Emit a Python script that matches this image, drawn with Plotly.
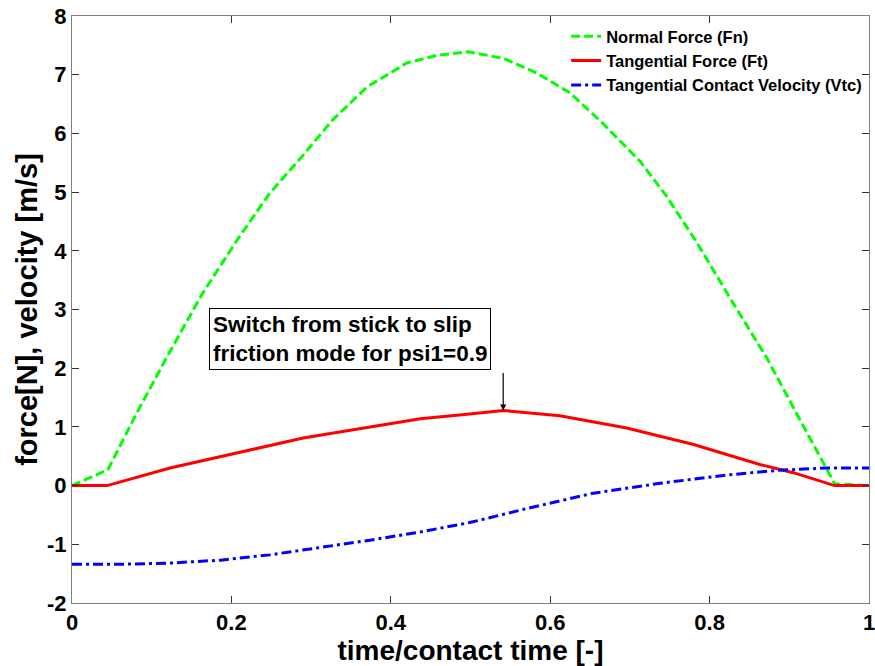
import plotly.graph_objects as go

# Normal force (Fn)
t_fn = [0, 0.045, 0.081, 0.119, 0.164, 0.207, 0.248, 0.274, 0.29, 0.327, 0.370, 0.420, 0.458,
        0.497, 0.541, 0.583, 0.625, 0.666, 0.713, 0.746, 0.784, 0.829, 0.872, 0.913, 0.957, 1.0]
v_fn = [0, 0.27, 1.23, 2.19, 3.28, 4.18, 4.98, 5.38, 5.63, 6.23, 6.79, 7.20, 7.33,
        7.39, 7.28, 7.03, 6.69, 6.17, 5.52, 4.93, 4.14, 3.12, 2.17, 1.13, 0.03, 0.0]

# Tangential force (Ft)
t_ft = [0, 0.044, 0.123, 0.207, 0.29, 0.374, 0.437, 0.499, 0.541, 0.612, 0.696, 0.78, 0.863,
        0.905, 0.957, 1.0]
v_ft = [0, 0, 0.30, 0.56, 0.81, 1.0, 1.14, 1.22, 1.28, 1.19, 0.98, 0.70, 0.36,
        0.22, 0.0, 0.0]

# Tangential contact velocity (Vtc)
t_vt = [0, 0.06, 0.123, 0.186, 0.248, 0.311, 0.374, 0.437, 0.499, 0.571, 0.654, 0.738, 0.822,
        0.885, 0.947, 1.0]
v_vt = [-1.34, -1.34, -1.32, -1.27, -1.18, -1.06, -0.93, -0.79, -0.63, -0.39, -0.13, 0.04, 0.18,
        0.26, 0.30, 0.30]

x_ticks = [0, 0.2, 0.4, 0.6, 0.8, 1]
x_ticklabels = ["0", "0.2", "0.4", "0.6", "0.8", "1"]
y_ticks = [-2, -1, 0, 1, 2, 3, 4, 5, 6, 7, 8]
y_ticklabels = ["-2", "-1", "0", "1", "2", "3", "4", "5", "6", "7", "8"]

FONT = "Liberation Sans, Arial, sans-serif"

fig = go.Figure()
fig.add_trace(go.Scatter(x=t_fn, y=v_fn, mode="lines", name="Normal Force (Fn)",
                         line=dict(color="#00ff00", width=3, dash="9px,4px")))
fig.add_trace(go.Scatter(x=t_ft, y=v_ft, mode="lines", name="Tangential Force (Ft)",
                         line=dict(color="#ff0000", width=3)))
fig.add_trace(go.Scatter(x=t_vt, y=v_vt, mode="lines", name="Tangential Contact Velocity (Vtc)",
                         line=dict(color="#0000ff", width=3, dash="10px,4px,3px,4px")))

axis_common = dict(showline=True, linecolor="#808080", linewidth=1, mirror="ticks",
                   ticks="inside", ticklen=7, tickcolor="#333333", tickwidth=1,
                   showgrid=False, zeroline=False, automargin=False,
                   ticklabeloverflow="allow",
                   tickfont=dict(family=FONT, size=22, color="black", weight="bold"))

fig.update_layout(
    width=875, height=666,
    margin=dict(l=72, r=6, t=16, b=63),
    plot_bgcolor="white", paper_bgcolor="white",
    font=dict(family=FONT, color="black"),
    xaxis=dict(range=[0, 1], tickvals=x_ticks, ticktext=x_ticklabels,
               title=dict(text="time/contact time [-]", standoff=2,
                          font=dict(family=FONT, size=28, weight="bold")),
               **axis_common),
    yaxis=dict(range=[-2, 8], tickvals=y_ticks, ticktext=y_ticklabels,
               title=dict(text="force[N], velocity [m/s]", standoff=0,
                          font=dict(family=FONT, size=29, weight="bold")),
               **axis_common),
    legend=dict(x=0.620, y=0.995, xanchor="left", yanchor="top",
                bgcolor="rgba(0,0,0,0)", borderwidth=0,
                font=dict(family=FONT, size=16.5, weight="bold"),
                tracegroupgap=0),
    showlegend=True,
)

# annotation text box
fig.add_annotation(x=0.349, y=2.49, xref="x", yref="y", showarrow=False,
                   text="Switch from stick to slip<br>friction mode for psi1=0.9",
                   align="left", bordercolor="black", borderwidth=1, borderpad=3,
                   bgcolor="white", font=dict(family=FONT, size=22.5, weight="bold", color="black"))
# arrow
fig.add_annotation(x=0.541, y=1.28, xref="x", yref="y", showarrow=True, text="",
                   ax=0, ay=-39, arrowhead=2, arrowsize=1, arrowwidth=1.2, arrowcolor="black")

fig.write_html("out.html")
